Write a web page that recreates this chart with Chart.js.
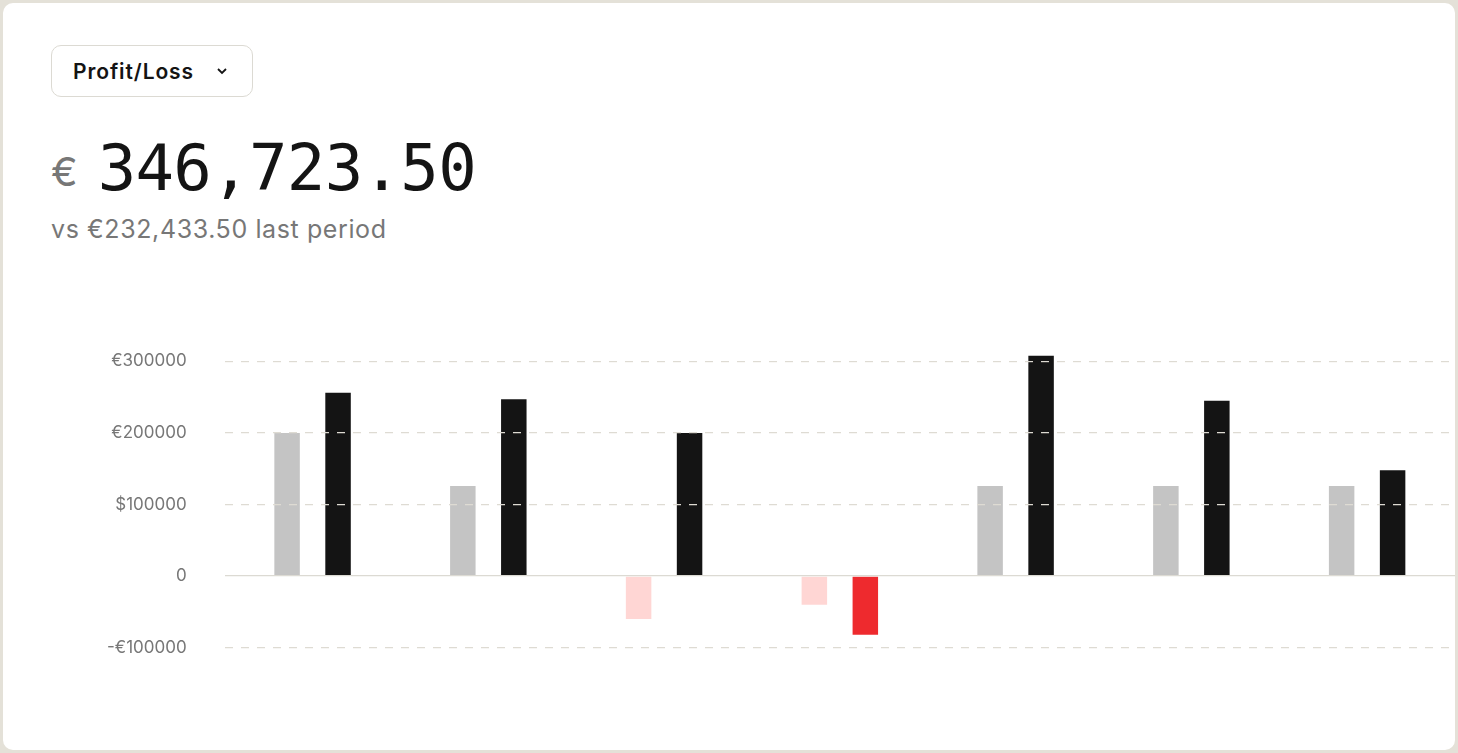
<!DOCTYPE html>
<html>
<head>
<meta charset="utf-8">
<script src="https://cdn.jsdelivr.net/npm/chart.js@4/dist/chart.umd.min.js"></script>
<style>
  html, body { margin: 0; padding: 0; background: #e4e1d8; width: 1458px; height: 753px; overflow: hidden; }
  .card { position: absolute; left: 3px; top: 3px; width: 1452px; height: 747px; background: #fff; border-radius: 10px; font-family: Inter, "Noto Sans", sans-serif; }
  .select { position: absolute; left: 48px; top: 42px; width: 202px; height: 52px; border: 1.5px solid #dcdad3; border-radius: 10px; box-sizing: border-box; display: flex; align-items: center; padding-left: 21px; font-size: 21px; letter-spacing: 0.9px; font-weight: 600; color: #141414; }
  .select svg { margin-left: 22px; }
  .value { position: absolute; left: 48px; top: 128px; white-space: nowrap; color: #141414; }
  .value .cur { font-size: 40px; color: #777; font-family: Inter, sans-serif; vertical-align: 4px; margin-right: 20px; }
  .value .num { font-family: "DejaVu Sans Mono", monospace; font-size: 64px; letter-spacing: -0.7px; }
  .sub { position: absolute; left: 48px; top: 211px; font-size: 25px; letter-spacing: 0.6px; color: #777; }
  .chartbox { position: absolute; left: 66px; top: 303px; width: 1386px; height: 397px; }
</style>
</head>
<body>
<div class="card">
  <div class="select">Profit/Loss
    <svg width="12" height="8" viewBox="0 0 12 8"><path d="M2 2 L6 6 L10 2" fill="none" stroke="#141414" stroke-width="1.8"/></svg>
  </div>
  <div class="value"><span class="cur">€</span><span class="num">346,723.50</span></div>
  <div class="sub">vs €232,433.50 last period</div>
  <div class="chartbox"><canvas id="chart"></canvas></div>
</div>
<script>
const categories = ['P1', 'P2', 'P3', 'P4', 'P5', 'P6', 'P7'];
const previousValues = [200000, 126000, -60000, -40000, 126000, 126000, 126000];
const currentValues = [256000, 247000, 200000, -82000, 308000, 245000, 148000];
const tickValues = [-100000, 0, 100000, 200000, 300000];
const tickLabels = ['-€100000', '0', '$100000', '€200000', '€300000'];

const ctx = document.getElementById('chart');

new Chart(ctx, {
  type: 'bar',
  data: {
    labels: categories,
    datasets: [
      {
        data: previousValues,
        backgroundColor: c => (c.raw < 0 ? '#ffd6d4' : '#c4c4c4'),
        barPercentage: 0.5,
        categoryPercentage: 0.58
      },
      {
        data: currentValues,
        backgroundColor: c => (c.raw < 0 ? '#ee2a2e' : '#141414'),
        barPercentage: 0.5,
        categoryPercentage: 0.58
      }
    ]
  },
  options: {
    responsive: true,
    maintainAspectRatio: false,
    animation: false,
    layout: { padding: 0 },
    plugins: { legend: { display: false }, tooltip: { enabled: false } },
    scales: {
      x: { display: false },
      y: {
        min: -110000,
        max: 310000,
        afterBuildTicks: axis => { axis.ticks = tickValues.map(v => ({ value: v })); },
        grid: {
          drawTicks: false,
          z: 1,
          color: c => (c.tick && c.tick.value === 0 ? '#dcdad3' : '#dedbd3'),
          lineWidth: 1.2
        },
        border: { display: false, dash: c => (c.tick && c.tick.value === 0 ? [] : [8, 8]) },
        ticks: {
          padding: 38,
          color: '#777',
          font: { family: 'Inter', size: 17 },
          callback: v => tickLabels[tickValues.indexOf(v)]
        }
      }
    }
  }
});
</script>
</body>
</html>
